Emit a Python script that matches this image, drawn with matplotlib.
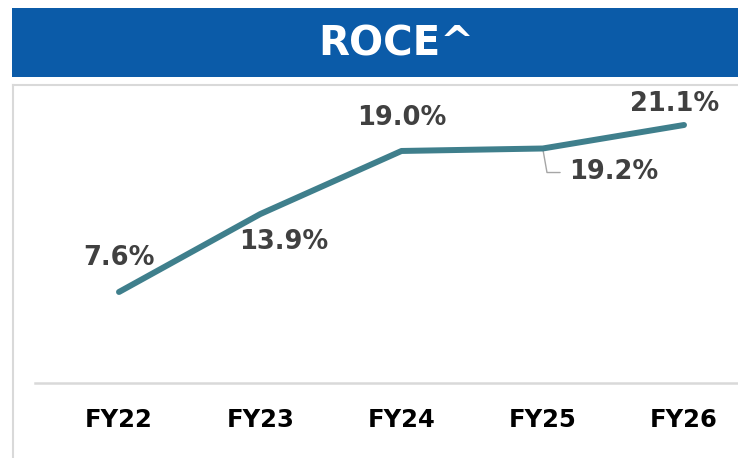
import matplotlib
matplotlib.use("Agg")
import matplotlib.pyplot as plt
from matplotlib.patches import Rectangle
from matplotlib.lines import Line2D

categories = ["FY22", "FY23", "FY24", "FY25", "FY26"]
roce = [7.6, 13.9, 19.0, 19.2, 21.1]
labels = ["7.6%", "13.9%", "19.0%", "19.2%", "21.1%"]
title = "ROCE^"

W, H = 738, 458
fig = plt.figure(figsize=(W / 100, H / 100), dpi=100)
fig.patch.set_facecolor("white")

def fx(px):
    return px / W

def fy(py):
    return 1 - py / H

# Banner
fig.patches.append(Rectangle((fx(12), fy(77)), fx(738) - fx(12), fy(8) - fy(77),
                             transform=fig.transFigure, facecolor="#0B5BA8",
                             edgecolor="none", zorder=0))
fig.text(fx(396), fy(45), title, color="white", fontsize=29, fontweight="bold",
         ha="center", va="center", family="DejaVu Sans")

# Panel border (light gray)
fig.lines.append(Line2D([fx(13), fx(738)], [fy(85), fy(85)], transform=fig.transFigure,
                        color="#D9D9D9", lw=1.5))
fig.lines.append(Line2D([fx(13), fx(13)], [fy(85), fy(458)], transform=fig.transFigure,
                        color="#D9D9D9", lw=1.5))

# Axes
ax_left, ax_right, ax_top, ax_bottom = 35, 738, 86, 386
ax = fig.add_axes([fx(ax_left), fy(ax_bottom), fx(ax_right) - fx(ax_left),
                   fy(ax_top) - fy(ax_bottom)])
ax.set_facecolor("none")
x = list(range(len(categories)))
step = 141.25
xmin = -(119 - ax_left) / step
xmax = xmin + (ax_right - ax_left) / step
ax.set_xlim(xmin, xmax)
ymax = (ax_bottom - ax_top) / 12.37
ax.set_ylim(0, ymax)

ax.plot(x, roce, color="#3F7F8C", lw=4.3, solid_capstyle="round",
        solid_joinstyle="round", zorder=3)

for s in ["top", "right", "left"]:
    ax.spines[s].set_visible(False)
ax.spines["bottom"].set_color("#D9D9D9")
ax.spines["bottom"].set_linewidth(1.8)
ax.spines["bottom"].set_position(("outward", -2))
ax.set_yticks([])
ax.set_xticks(x)
ax.set_xticklabels(categories, fontsize=17.5, fontweight="bold", color="black")
ax.tick_params(axis="x", length=0, pad=18)

# Data labels (offsets in points)
offsets = [(0, 24.5), (17, -20), (0, 24), (51, -17), (-7, 15)]
for i, (v, lab) in enumerate(zip(roce, labels)):
    dx, dy = offsets[i]
    ax.annotate(lab, (i, v), xytext=(dx, dy), textcoords="offset points",
                ha="center", va="center", fontsize=18.5, fontweight="bold",
                color="#404040", zorder=4)

# Leader line for FY25 label
ax.annotate("", (3, roce[3]), xytext=(12.5, -17.3), textcoords="offset points",
            arrowprops=dict(arrowstyle="-", color="#A6A6A6", lw=1,
                            connectionstyle="angle,angleA=0,angleB=100,rad=0",
                            shrinkA=0, shrinkB=0), zorder=2)

fig.savefig("out.png", dpi=100, facecolor="white")
